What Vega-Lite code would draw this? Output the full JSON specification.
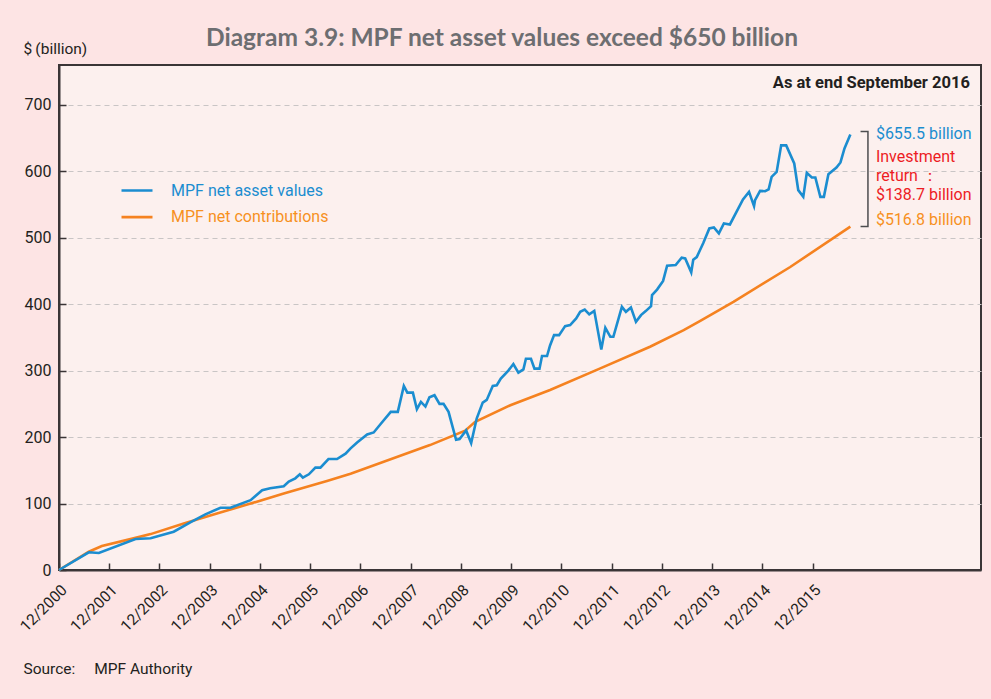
{
  "$schema": "https://vega.github.io/schema/vega-lite/v6.json",
  "width": 922,
  "height": 505,
  "autosize": "none",
  "padding": {"left": 59, "top": 65, "right": 10, "bottom": 129},
  "background": "#fde4e4",
  "config": {
    "font": "Roboto",
    "view": {"fill": "#fcf0ee", "stroke": "#3a3536", "strokeWidth": 2}
  },
  "title": {
    "text": "Diagram 3.9: MPF net asset values exceed $650 billion",
    "font": "Lato",
    "fontSize": 24.5,
    "fontWeight": "bold",
    "color": "#6d6e71",
    "anchor": "middle",
    "dx": -18,
    "baseline": "alphabetic",
    "offset": -29
  },
  "datasets": {
    "series": [
      {"series": "MPF net contributions", "year": 2000.917, "value": 0},
      {"series": "MPF net contributions", "year": 2001.51, "value": 27.5},
      {"series": "MPF net contributions", "year": 2001.77, "value": 36},
      {"series": "MPF net contributions", "year": 2002.4, "value": 47.6},
      {"series": "MPF net contributions", "year": 2002.74, "value": 54},
      {"series": "MPF net contributions", "year": 2003.4, "value": 70},
      {"series": "MPF net contributions", "year": 2004.06, "value": 85},
      {"series": "MPF net contributions", "year": 2004.73, "value": 100},
      {"series": "MPF net contributions", "year": 2005.39, "value": 115},
      {"series": "MPF net contributions", "year": 2006.25, "value": 134},
      {"series": "MPF net contributions", "year": 2006.72, "value": 145},
      {"series": "MPF net contributions", "year": 2008.3, "value": 188},
      {"series": "MPF net contributions", "year": 2009.0, "value": 209.6},
      {"series": "MPF net contributions", "year": 2009.2, "value": 223},
      {"series": "MPF net contributions", "year": 2009.9, "value": 248},
      {"series": "MPF net contributions", "year": 2010.69, "value": 271},
      {"series": "MPF net contributions", "year": 2011.69, "value": 303.5},
      {"series": "MPF net contributions", "year": 2012.68, "value": 336},
      {"series": "MPF net contributions", "year": 2013.35, "value": 361},
      {"series": "MPF net contributions", "year": 2013.68, "value": 375},
      {"series": "MPF net contributions", "year": 2014.34, "value": 403.6},
      {"series": "MPF net contributions", "year": 2015.47, "value": 456},
      {"series": "MPF net contributions", "year": 2016.667, "value": 516.8},
      {"series": "MPF net asset values", "year": 2000.917, "value": 0},
      {"series": "MPF net asset values", "year": 2001.51, "value": 26.6},
      {"series": "MPF net asset values", "year": 2001.71, "value": 25.6},
      {"series": "MPF net asset values", "year": 2002.44, "value": 46.6},
      {"series": "MPF net asset values", "year": 2002.74, "value": 47.7},
      {"series": "MPF net asset values", "year": 2003.2, "value": 57.6},
      {"series": "MPF net asset values", "year": 2003.53, "value": 71.7},
      {"series": "MPF net asset values", "year": 2003.83, "value": 83.8},
      {"series": "MPF net asset values", "year": 2004.13, "value": 93.7},
      {"series": "MPF net asset values", "year": 2004.33, "value": 93.7},
      {"series": "MPF net asset values", "year": 2004.73, "value": 105},
      {"series": "MPF net asset values", "year": 2004.96, "value": 120},
      {"series": "MPF net asset values", "year": 2005.12, "value": 123},
      {"series": "MPF net asset values", "year": 2005.39, "value": 126},
      {"series": "MPF net asset values", "year": 2005.49, "value": 133},
      {"series": "MPF net asset values", "year": 2005.62, "value": 138},
      {"series": "MPF net asset values", "year": 2005.71, "value": 144},
      {"series": "MPF net asset values", "year": 2005.77, "value": 139},
      {"series": "MPF net asset values", "year": 2005.89, "value": 144},
      {"series": "MPF net asset values", "year": 2006.02, "value": 154},
      {"series": "MPF net asset values", "year": 2006.12, "value": 154},
      {"series": "MPF net asset values", "year": 2006.28, "value": 167},
      {"series": "MPF net asset values", "year": 2006.45, "value": 167},
      {"series": "MPF net asset values", "year": 2006.62, "value": 175},
      {"series": "MPF net asset values", "year": 2006.72, "value": 183},
      {"series": "MPF net asset values", "year": 2006.85, "value": 192},
      {"series": "MPF net asset values", "year": 2007.05, "value": 204},
      {"series": "MPF net asset values", "year": 2007.18, "value": 207},
      {"series": "MPF net asset values", "year": 2007.31, "value": 219},
      {"series": "MPF net asset values", "year": 2007.52, "value": 238},
      {"series": "MPF net asset values", "year": 2007.66, "value": 238},
      {"series": "MPF net asset values", "year": 2007.78, "value": 277},
      {"series": "MPF net asset values", "year": 2007.85, "value": 267},
      {"series": "MPF net asset values", "year": 2007.96, "value": 267},
      {"series": "MPF net asset values", "year": 2008.04, "value": 242},
      {"series": "MPF net asset values", "year": 2008.12, "value": 253},
      {"series": "MPF net asset values", "year": 2008.21, "value": 246},
      {"series": "MPF net asset values", "year": 2008.29, "value": 260},
      {"series": "MPF net asset values", "year": 2008.39, "value": 263},
      {"series": "MPF net asset values", "year": 2008.49, "value": 250},
      {"series": "MPF net asset values", "year": 2008.57, "value": 250},
      {"series": "MPF net asset values", "year": 2008.67, "value": 238},
      {"series": "MPF net asset values", "year": 2008.82, "value": 196},
      {"series": "MPF net asset values", "year": 2008.89, "value": 197},
      {"series": "MPF net asset values", "year": 2009.02, "value": 210},
      {"series": "MPF net asset values", "year": 2009.12, "value": 191},
      {"series": "MPF net asset values", "year": 2009.23, "value": 228},
      {"series": "MPF net asset values", "year": 2009.35, "value": 252},
      {"series": "MPF net asset values", "year": 2009.43, "value": 256},
      {"series": "MPF net asset values", "year": 2009.55, "value": 277},
      {"series": "MPF net asset values", "year": 2009.63, "value": 278},
      {"series": "MPF net asset values", "year": 2009.71, "value": 288},
      {"series": "MPF net asset values", "year": 2009.86, "value": 300},
      {"series": "MPF net asset values", "year": 2009.96, "value": 310},
      {"series": "MPF net asset values", "year": 2010.06, "value": 297},
      {"series": "MPF net asset values", "year": 2010.16, "value": 302},
      {"series": "MPF net asset values", "year": 2010.21, "value": 318},
      {"series": "MPF net asset values", "year": 2010.31, "value": 318},
      {"series": "MPF net asset values", "year": 2010.38, "value": 303},
      {"series": "MPF net asset values", "year": 2010.48, "value": 303},
      {"series": "MPF net asset values", "year": 2010.53, "value": 322},
      {"series": "MPF net asset values", "year": 2010.63, "value": 322},
      {"series": "MPF net asset values", "year": 2010.69, "value": 338},
      {"series": "MPF net asset values", "year": 2010.77, "value": 353.5},
      {"series": "MPF net asset values", "year": 2010.87, "value": 353.5},
      {"series": "MPF net asset values", "year": 2010.99, "value": 367},
      {"series": "MPF net asset values", "year": 2011.09, "value": 368.6},
      {"series": "MPF net asset values", "year": 2011.21, "value": 378.6},
      {"series": "MPF net asset values", "year": 2011.29, "value": 388.6},
      {"series": "MPF net asset values", "year": 2011.38, "value": 392},
      {"series": "MPF net asset values", "year": 2011.47, "value": 384.7},
      {"series": "MPF net asset values", "year": 2011.57, "value": 390},
      {"series": "MPF net asset values", "year": 2011.71, "value": 332},
      {"series": "MPF net asset values", "year": 2011.79, "value": 364.5},
      {"series": "MPF net asset values", "year": 2011.89, "value": 351},
      {"series": "MPF net asset values", "year": 2011.95, "value": 351},
      {"series": "MPF net asset values", "year": 2012.12, "value": 396},
      {"series": "MPF net asset values", "year": 2012.2, "value": 388.6},
      {"series": "MPF net asset values", "year": 2012.3, "value": 395},
      {"series": "MPF net asset values", "year": 2012.4, "value": 373.5},
      {"series": "MPF net asset values", "year": 2012.5, "value": 383.6},
      {"series": "MPF net asset values", "year": 2012.6, "value": 390},
      {"series": "MPF net asset values", "year": 2012.7, "value": 397},
      {"series": "MPF net asset values", "year": 2012.72, "value": 413.7},
      {"series": "MPF net asset values", "year": 2012.82, "value": 422},
      {"series": "MPF net asset values", "year": 2012.94, "value": 435},
      {"series": "MPF net asset values", "year": 2013.02, "value": 458},
      {"series": "MPF net asset values", "year": 2013.19, "value": 459},
      {"series": "MPF net asset values", "year": 2013.31, "value": 470},
      {"series": "MPF net asset values", "year": 2013.38, "value": 469},
      {"series": "MPF net asset values", "year": 2013.5, "value": 448},
      {"series": "MPF net asset values", "year": 2013.54, "value": 467},
      {"series": "MPF net asset values", "year": 2013.61, "value": 471},
      {"series": "MPF net asset values", "year": 2013.74, "value": 492},
      {"series": "MPF net asset values", "year": 2013.86, "value": 514},
      {"series": "MPF net asset values", "year": 2013.95, "value": 515.5},
      {"series": "MPF net asset values", "year": 2014.05, "value": 506.5},
      {"series": "MPF net asset values", "year": 2014.15, "value": 521.6},
      {"series": "MPF net asset values", "year": 2014.27, "value": 520},
      {"series": "MPF net asset values", "year": 2014.53, "value": 557.7},
      {"series": "MPF net asset values", "year": 2014.65, "value": 569},
      {"series": "MPF net asset values", "year": 2014.75, "value": 547.6},
      {"series": "MPF net asset values", "year": 2014.77, "value": 556.6},
      {"series": "MPF net asset values", "year": 2014.87, "value": 570.6},
      {"series": "MPF net asset values", "year": 2014.97, "value": 570},
      {"series": "MPF net asset values", "year": 2015.04, "value": 572.7},
      {"series": "MPF net asset values", "year": 2015.1, "value": 591.7},
      {"series": "MPF net asset values", "year": 2015.2, "value": 599},
      {"series": "MPF net asset values", "year": 2015.29, "value": 639},
      {"series": "MPF net asset values", "year": 2015.39, "value": 639},
      {"series": "MPF net asset values", "year": 2015.55, "value": 611.8},
      {"series": "MPF net asset values", "year": 2015.63, "value": 571.7},
      {"series": "MPF net asset values", "year": 2015.73, "value": 561.6},
      {"series": "MPF net asset values", "year": 2015.8, "value": 597.7},
      {"series": "MPF net asset values", "year": 2015.9, "value": 590.8},
      {"series": "MPF net asset values", "year": 2015.97, "value": 590.8},
      {"series": "MPF net asset values", "year": 2016.07, "value": 561.6},
      {"series": "MPF net asset values", "year": 2016.14, "value": 561.6},
      {"series": "MPF net asset values", "year": 2016.23, "value": 595.7},
      {"series": "MPF net asset values", "year": 2016.39, "value": 605.8},
      {"series": "MPF net asset values", "year": 2016.47, "value": 613.3},
      {"series": "MPF net asset values", "year": 2016.55, "value": 634.4},
      {"series": "MPF net asset values", "year": 2016.667, "value": 655.5}
    ],
    "bracket": [
      {"step": 1, "year": 2016.87, "value": 660},
      {"step": 2, "year": 2017.017, "value": 660},
      {"step": 3, "year": 2017.017, "value": 516.8},
      {"step": 4, "year": 2016.87, "value": 516.8}
    ],
    "notes": [
      {"kind": "nav", "year": 2017.175, "value": 656, "label": "$655.5 billion"},
      {"kind": "return", "year": 2017.175, "value": 622, "label": "Investment"},
      {"kind": "return", "year": 2017.175, "value": 593, "label": "return ："},
      {"kind": "return", "year": 2017.175, "value": 564, "label": "$138.7 billion"},
      {"kind": "contrib", "year": 2017.175, "value": 526.5, "label": "$516.8 billion"},
      {"kind": "date", "year": 2019.046, "value": 732.7, "label": "As at end September 2016"}
    ]
  },
  "layer": [
    {
      "data": {"name": "series"},
      "mark": {"type": "line", "strokeWidth": 2.6},
      "encoding": {
        "x": {
          "field": "year",
          "type": "quantitative",
          "scale": {"domain": [2000.917, 2019.267], "nice": false, "zero": false},
          "axis": {
            "values": [2000.917, 2001.917, 2002.917, 2003.917, 2004.917, 2005.917, 2006.917, 2007.917, 2008.917, 2009.917, 2010.917, 2011.917, 2012.917, 2013.917, 2014.917, 2015.917],
            "labelExpr": "'12/' + floor(datum.value)",
            "labelAngle": -45,
            "labelAlign": "right",
            "labelBaseline": "top",
            "labelOverlap": false,
            "labelFontSize": 15.5,
            "labelColor": "#231f20",
            "labelPadding": 19,
            "grid": false,
            "domainColor": "#3a3536",
            "domainWidth": 2,
            "tickColor": "#3a3536",
            "tickWidth": 1.5,
            "tickSize": -7,
            "title": "Source:\u2003\u2009MPF Authority",
            "titleX": -36,
            "titleY": 103,
            "titleAlign": "left",
            "titleAnchor": "start",
            "titleBaseline": "alphabetic",
            "titleFontSize": 15.5,
            "titleFontWeight": "normal",
            "titleColor": "#231f20"
          }
        },
        "y": {
          "field": "value",
          "type": "quantitative",
          "scale": {"domain": [0, 760], "nice": false},
          "axis": {
            "values": [0, 100, 200, 300, 400, 500, 600, 700],
            "grid": true,
            "gridColor": "#c9c5c5",
            "gridDash": [5, 4],
            "gridWidth": 1,
            "domainColor": "#3a3536",
            "domainWidth": 2,
            "tickColor": "#3a3536",
            "tickWidth": 1.5,
            "tickSize": -7,
            "labelFontSize": 16,
            "labelColor": "#231f20",
            "labelPadding": 15,
            "title": "$\u2009(billion)",
            "titleAngle": 0,
            "titleX": -36,
            "titleY": -12,
            "titleAlign": "left",
            "titleBaseline": "alphabetic",
            "titleFontSize": 15.5,
            "titleFontWeight": "normal",
            "titleColor": "#231f20"
          }
        },
        "color": {
          "field": "series",
          "type": "nominal",
          "scale": {"domain": ["MPF net asset values", "MPF net contributions"], "range": ["#1b8dd0", "#f58220"]},
          "legend": {
            "title": null,
            "orient": "none",
            "legendX": 61,
            "legendY": 117,
            "symbolType": "stroke",
            "symbolSize": 961,
            "symbolStrokeWidth": 2.6,
            "clipHeight": 17,
            "labelFontSize": 16,
            "labelOffset": 17,
            "rowPadding": 9.6,
            "labelFont": "Roboto",
            "labelLimit": 300,
            "encode": {
              "labels": {
                "update": {
                  "fill": {"signal": "datum.value === 'MPF net asset values' ? '#1b8dd0' : '#f7901e'"}
                }
              }
            }
          }
        }
      }
    },
    {
      "data": {"name": "bracket"},
      "mark": {"type": "line", "stroke": "#4d4d4f", "strokeWidth": 1.5},
      "encoding": {
        "x": {"field": "year", "type": "quantitative"},
        "y": {"field": "value", "type": "quantitative"},
        "order": {"field": "step", "type": "quantitative"}
      }
    },
    {
      "data": {"name": "notes"},
      "transform": [{"filter": "datum.kind === 'nav'"}],
      "mark": {"type": "text", "align": "left", "baseline": "middle", "fontSize": 16, "color": "#1b8dd0"},
      "encoding": {
        "x": {"field": "year", "type": "quantitative"},
        "y": {"field": "value", "type": "quantitative"},
        "text": {"field": "label"}
      }
    },
    {
      "data": {"name": "notes"},
      "transform": [{"filter": "datum.kind === 'return'"}],
      "mark": {"type": "text", "align": "left", "baseline": "middle", "fontSize": 16, "color": "#ed1c24"},
      "encoding": {
        "x": {"field": "year", "type": "quantitative"},
        "y": {"field": "value", "type": "quantitative"},
        "text": {"field": "label"}
      }
    },
    {
      "data": {"name": "notes"},
      "transform": [{"filter": "datum.kind === 'contrib'"}],
      "mark": {"type": "text", "align": "left", "baseline": "middle", "fontSize": 16, "color": "#f7901e"},
      "encoding": {
        "x": {"field": "year", "type": "quantitative"},
        "y": {"field": "value", "type": "quantitative"},
        "text": {"field": "label"}
      }
    },
    {
      "data": {"name": "notes"},
      "transform": [{"filter": "datum.kind === 'date'"}],
      "mark": {"type": "text", "align": "right", "baseline": "middle", "fontSize": 16.5, "fontWeight": "bold", "color": "#231f20"},
      "encoding": {
        "x": {"field": "year", "type": "quantitative"},
        "y": {"field": "value", "type": "quantitative"},
        "text": {"field": "label"}
      }
    }
  ]
}
